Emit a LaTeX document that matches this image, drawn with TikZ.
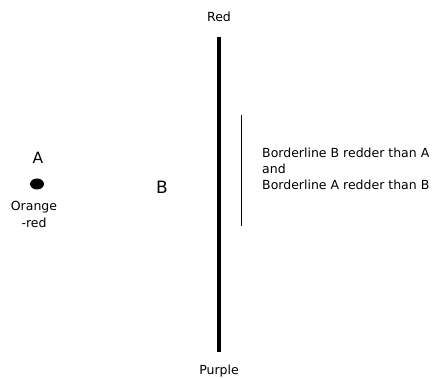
\documentclass[tikz,border=0pt]{standalone}
\usepackage{fontspec}
\setmainfont{DejaVu Sans}
\usepackage{tikz}
\usetikzlibrary{shapes.geometric}

\begin{document}
\begin{tikzpicture}[x=1pt,y=-1pt,
  lbl/.style={inner sep=0pt,font=\fontsize{12.5}{16}\selectfont},
  big/.style={inner sep=0pt,font=\fontsize{15.5}{18}\selectfont}]
\useasboundingbox (0,0) rectangle (436,379);
\node[lbl] (red) at (219,17) {Red};
\node[lbl] (purple) at (219,371) {Purple};
\coordinate (top) at (219,37);
\coordinate (bot) at (219,352);
\draw[line width=4pt] (top) -- (bot);
\coordinate (ttop) at (241,115);
\coordinate (tbot) at (241,226);
\draw[line width=1pt] (ttop) -- (tbot);
\node[big] (a) at (38,158) {A};
\node[fill,ellipse,minimum width=14pt,minimum height=11pt,inner sep=0pt] (dot) at (37,184) {};
\node[lbl,align=center,font=\fontsize{12.5}{17}\selectfont] (orange) at (34,214) {Orange\\-red};
\node[big,font=\fontsize{17}{20}\selectfont] (b) at (162,187) {B};
\node[lbl,align=left,anchor=west] (note) at (262,169)
  {Borderline B redder than A\\and\\Borderline A redder than B};
\end{tikzpicture}
\end{document}
